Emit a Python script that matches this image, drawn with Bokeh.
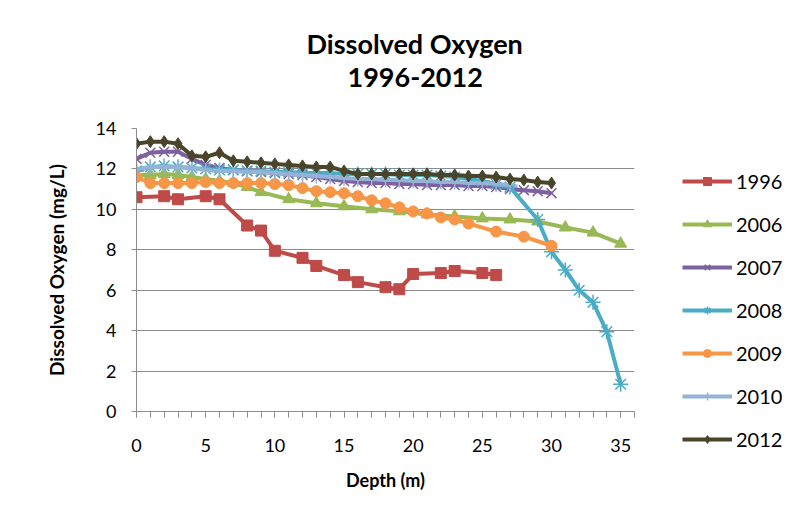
from bokeh.plotting import figure
from bokeh.models import Legend, LegendItem, FixedTicker, Title
from bokeh.embed import file_html
from bokeh.resources import INLINE

FONT = "Lato"

years = ["1996", "2006", "2007", "2008", "2009", "2010", "2012"]

depth_1996 = [0, 2, 3, 5, 6, 8, 9, 10, 12, 13, 15, 16, 18, 19, 20, 22, 23, 25, 26]
do_1996 = [10.6, 10.65, 10.5, 10.65, 10.5, 9.2, 8.95, 7.95, 7.6, 7.2, 6.75, 6.4,
           6.15, 6.05, 6.8, 6.85, 6.95, 6.85, 6.75]

depth_2006 = [0, 1, 2, 3, 4, 5, 6, 7, 8, 9, 11, 13, 15, 17, 19, 21, 23, 25, 27,
              29, 31, 33, 35]
do_2006 = [11.7, 11.7, 11.75, 11.7, 11.6, 11.5, 11.4, 11.3, 11.1, 10.85, 10.5,
           10.3, 10.15, 10.0, 9.9, 9.75, 9.65, 9.55, 9.5, 9.4, 9.1, 8.85, 8.3]

depth_2007 = list(range(0, 31))
do_2007 = [12.5, 12.8, 12.85, 12.85, 12.5, 12.2, 12.05, 11.95, 11.9, 11.85, 11.8,
           11.75, 11.7, 11.6, 11.5, 11.4, 11.35, 11.3, 11.3, 11.25, 11.25, 11.2,
           11.2, 11.2, 11.15, 11.15, 11.1, 11.0, 10.95, 10.9, 10.8]

depth_2008 = list(range(0, 28)) + [29, 30, 31, 32, 33, 34, 35]
do_2008 = [11.9, 12.1, 12.15, 12.1, 12.05, 12.0, 11.95, 11.95, 11.9, 11.9, 11.85,
           11.85, 11.8, 11.8, 11.8, 11.75, 11.75, 11.75, 11.75, 11.7, 11.7, 11.7,
           11.65, 11.6, 11.5, 11.4, 11.25, 11.1, 9.5, 7.9, 7.0, 6.0, 5.4,
           3.95, 1.35]

depth_2009 = list(range(0, 25)) + [26, 28, 30]
do_2009 = [11.6, 11.3, 11.3, 11.3, 11.3, 11.35, 11.3, 11.3, 11.3, 11.3, 11.25,
           11.2, 11.05, 10.9, 10.85, 10.8, 10.65, 10.45, 10.3, 10.1, 9.9, 9.8,
           9.6, 9.5, 9.3, 8.9, 8.65, 8.2]

depth_2010 = list(range(0, 28))
do_2010 = [12.0, 12.1, 12.1, 12.1, 12.05, 11.95, 11.9, 11.9, 11.85, 11.85, 11.8,
           11.75, 11.7, 11.65, 11.6, 11.55, 11.5, 11.5, 11.45, 11.45, 11.4, 11.4,
           11.35, 11.35, 11.3, 11.3, 11.25, 11.2]

depth_2012 = list(range(0, 31))
do_2012 = [13.25, 13.35, 13.35, 13.25, 12.65, 12.6, 12.8, 12.4, 12.35, 12.3, 12.25,
           12.2, 12.15, 12.1, 12.1, 11.9, 11.75, 11.75, 11.75, 11.75, 11.75, 11.75,
           11.7, 11.7, 11.65, 11.65, 11.6, 11.5, 11.45, 11.35, 11.3]

x_ticks = [0, 5, 10, 15, 20, 25, 30, 35]
y_ticks = [0, 2, 4, 6, 8, 10, 12, 14]

series = [
    (depth_1996, do_1996, "#BE4B48", "square", 11, None),
    (depth_2006, do_2006, "#98B954", "triangle", 12, None),
    (depth_2007, do_2007, "#7D60A0", "x", 14, 1.5),
    (depth_2008, do_2008, "#4BACC6", "asterisk", 15, 1.5),
    (depth_2009, do_2009, "#F79646", "circle", 11, None),
    (depth_2010, do_2010, "#95B3D7", "cross", 15, 1.5),
    (depth_2012, do_2012, "#4A452A", "diamond", 12, None),
]

p = figure(width=784, height=505, frame_width=498, frame_height=283,
           min_border_left=136, min_border_right=150, min_border_top=128,
           min_border_bottom=94, x_range=(0, 36), y_range=(0, 14),
           output_backend="svg", toolbar_location=None, title=None)

t2 = Title(text="1996-2012", align="left", offset=211, standoff=84,
           text_font=FONT, text_font_size="27px", text_font_style="bold",
           text_color="#000000")
t1 = Title(text="Dissolved Oxygen", align="left", offset=170, standoff=0,
           text_font=FONT, text_font_size="27px", text_font_style="bold",
           text_color="#000000")
try:
    t1.standoff = -72
except Exception:
    t1.standoff = 0
p.add_layout(t2, "above")
p.add_layout(t1, "above")

p.outline_line_color = None
p.xgrid.grid_line_color = None
p.ygrid.grid_line_color = "#8C8C8C"
p.ygrid.grid_line_width = 1
p.ygrid.ticker = FixedTicker(ticks=y_ticks)

p.xaxis.ticker = FixedTicker(ticks=x_ticks, minor_ticks=list(range(0, 37)))
p.yaxis.ticker = FixedTicker(ticks=y_ticks)
for ax in (p.xaxis[0], p.yaxis[0]):
    ax.axis_line_color = "#8C8C8C"
    ax.major_tick_line_color = "#8C8C8C"
    ax.minor_tick_line_color = "#8C8C8C"
    ax.major_tick_in = 0
    ax.minor_tick_in = 0
    ax.major_label_text_font = FONT
    ax.major_label_text_font_size = "18px"
    ax.major_label_text_color = "#000000"
    ax.axis_label_text_font = FONT
    ax.axis_label_text_font_style = "bold"
    ax.axis_label_text_color = "#000000"

p.xaxis.axis_label_text_font_size = "18px"
p.yaxis.axis_label_text_font_size = "19px"
p.xaxis.major_tick_out = 6
p.xaxis.minor_tick_out = 6
p.yaxis.major_tick_out = 5
p.yaxis.minor_tick_line_color = None
p.xaxis.major_label_standoff = 21
p.yaxis.major_label_standoff = 15
p.xaxis.axis_label = "Depth (m)"
p.yaxis.axis_label = "Dissolved Oxygen (mg/L)"
p.xaxis.axis_label_standoff = 14
p.yaxis.axis_label_standoff = 25

items = []
for name, (xs, ys, color, marker, size, mlw) in zip(years, series):
    ln = p.line(xs, ys, line_color=color, line_width=4)
    if mlw is None:
        sc = p.scatter(xs, ys, marker=marker, size=size, fill_color=color,
                       line_color=color, line_width=1)
    else:
        sc = p.scatter(xs, ys, marker=marker, size=size, fill_color=None,
                       line_color=color, line_width=mlw)
    items.append(LegendItem(label=name, renderers=[ln, sc]))

legend = Legend(items=items, location=(48, -40), orientation="vertical",
                padding=0, margin=0, spacing=19, glyph_width=50, glyph_height=20,
                label_height=20, label_standoff=4, border_line_color=None,
                background_fill_alpha=0, label_text_font=FONT,
                label_text_font_size="20px", label_text_color="#000000")
p.add_layout(legend, "right")

open("out.html", "w").write(file_html(p, INLINE))
